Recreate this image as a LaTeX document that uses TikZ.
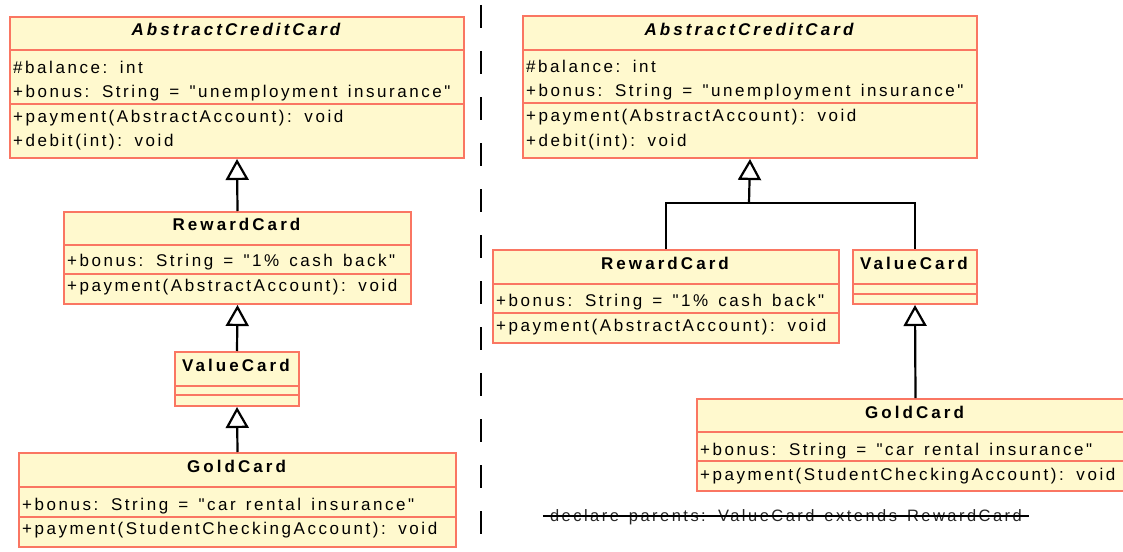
\documentclass[tikz,border=0pt]{standalone}
\usepackage{fontspec}
\setmainfont{Liberation Sans}[Ligatures=TeXOff, LetterSpace=15, WordSpace=1.4,
  BoldFeatures={LetterSpace=18}, BoldItalicFeatures={LetterSpace=18}]
\usetikzlibrary{arrows.meta}
\definecolor{classfill}{RGB}{255,249,206}
\definecolor{classedge}{RGB}{250,118,98}

\begin{document}
\begin{tikzpicture}[x=1pt,y=-1pt,
  font=\fontsize{17}{20}\selectfont,
  classbox/.style={draw=classedge, fill=classfill, line width=2pt, inner sep=0pt, anchor=north west},
  divider/.style={draw=classedge, line width=2pt},
  member/.style={anchor=base west, inner sep=0pt},
  cname/.style={anchor=base, inner sep=0pt, font=\fontsize{17}{20}\selectfont\bfseries},
  inherit/.style={draw=black, line width=2.2pt, -{Triangle[open, fill=white, length=21pt, width=23pt]}},
  link/.style={draw=black, line width=2.2pt},
  ]
\useasboundingbox (0,0) rectangle (1123,551);
\clip (0,0) rectangle (1123,551);

% separator between the two variants
\draw[line width=2.5pt, dash pattern=on 23pt off 23pt] (481,5) -- (481,551);

% ---------------- left: linear hierarchy ----------------
\node[classbox, minimum width=454pt, minimum height=141pt] (lacc) at (9,16) {};
\draw[divider] (9,50) -- (463,50);
\draw[divider] (9,104) -- (463,104);
\node[cname] (laccname) at (236,36) {\itshape AbstractCreditCard};
\node[member] (laccbal) at (13,73) {\#balance: int};
\node[member] (laccbon) at (13,97) {+bonus: String = "unemployment insurance"};
\node[member] (laccpay) at (13,122) {+payment(AbstractAccount): void};
\node[member] (laccdeb) at (13,146) {+debit(int): void};

\node[classbox, minimum width=347pt, minimum height=92pt] (lreward) at (63,211) {};
\draw[divider] (63,245) -- (410,245);
\draw[divider] (63,274) -- (410,274);
\node[cname] (lrewardname) at (236.5,230) {RewardCard};
\node[member] (lrewardbon) at (67,266.5) {+bonus: String = "1\% cash back"};
\node[member] (lrewardpay) at (67,291.5) {+payment(AbstractAccount): void};

\node[classbox, minimum width=124pt, minimum height=54pt] (lvalue) at (174,351) {};
\draw[divider] (174,386) -- (298,386);
\draw[divider] (174,395) -- (298,395);
\node[cname] (lvaluename) at (236,371.5) {ValueCard};

\node[classbox, minimum width=437pt, minimum height=94pt] (lgold) at (18,452) {};
\draw[divider] (18,487) -- (455,487);
\draw[divider] (18,517) -- (455,517);
\node[cname] (lgoldname) at (236.5,472.5) {GoldCard};
\node[member] (lgoldbon) at (22,510) {+bonus: String = "car rental insurance"};
\node[member] (lgoldpay) at (22,534.5) {+payment(StudentCheckingAccount): void};

\draw[inherit] (lreward.north) -- (lacc.south);
\draw[inherit] (lvalue.north) -- (lreward.south);
\draw[inherit] (lgold.north) -- (lvalue.south);

% ---------------- right: two siblings ----------------
\node[classbox, minimum width=454pt, minimum height=142pt] (racc) at (522,15) {};
\draw[divider] (522,50) -- (976,50);
\draw[divider] (522,103) -- (976,103);
\node[cname] (raccname) at (749,35.5) {\itshape AbstractCreditCard};
\node[member] (raccbal) at (526,72) {\#balance: int};
\node[member] (raccbon) at (526,96.5) {+bonus: String = "unemployment insurance"};
\node[member] (raccpay) at (526,121.5) {+payment(AbstractAccount): void};
\node[member] (raccdeb) at (526,146) {+debit(int): void};

\node[classbox, minimum width=346pt, minimum height=93pt] (rreward) at (492,249) {};
\draw[divider] (492,284) -- (838,284);
\draw[divider] (492,313) -- (838,313);
\node[cname] (rrewardname) at (665,269.5) {RewardCard};
\node[member] (rrewardbon) at (496,306.5) {+bonus: String = "1\% cash back"};
\node[member] (rrewardpay) at (496,331.5) {+payment(AbstractAccount): void};

\node[classbox, minimum width=124pt, minimum height=54pt] (rvalue) at (852,249) {};
\draw[divider] (852,284) -- (976,284);
\draw[divider] (852,294) -- (976,294);
\node[cname] (rvaluename) at (914,269.5) {ValueCard};

\node[classbox, minimum width=437pt, minimum height=92pt] (rgold) at (696,398) {};
\draw[divider] (696,432) -- (1133,432);
\draw[divider] (696,461) -- (1133,461);
\node[cname] (rgoldname) at (914.5,418.5) {GoldCard};
\node[member] (rgoldbon) at (700,455) {+bonus: String = "car rental insurance"};
\node[member] (rgoldpay) at (700,480.5) {+payment(StudentCheckingAccount): void};

\coordinate (rjoin) at (749,203);
\draw[link] (rreward.north) |- (rjoin) -| (rvalue.north);
\draw[inherit] (rjoin) -- (racc.south);
\draw[inherit] (rgold.north) -- (rvalue.south);

% struck-out declaration
\node[anchor=base, inner xsep=7pt, inner ysep=0pt, text=black!85, font=\fontsize{16.5}{20}\selectfont] (note) at (786,521) {declare parents: ValueCard extends RewardCard};
\draw[line width=1.8pt] ([yshift=5pt]note.base west) -- ([yshift=5pt]note.base east);
\end{tikzpicture}
\end{document}
